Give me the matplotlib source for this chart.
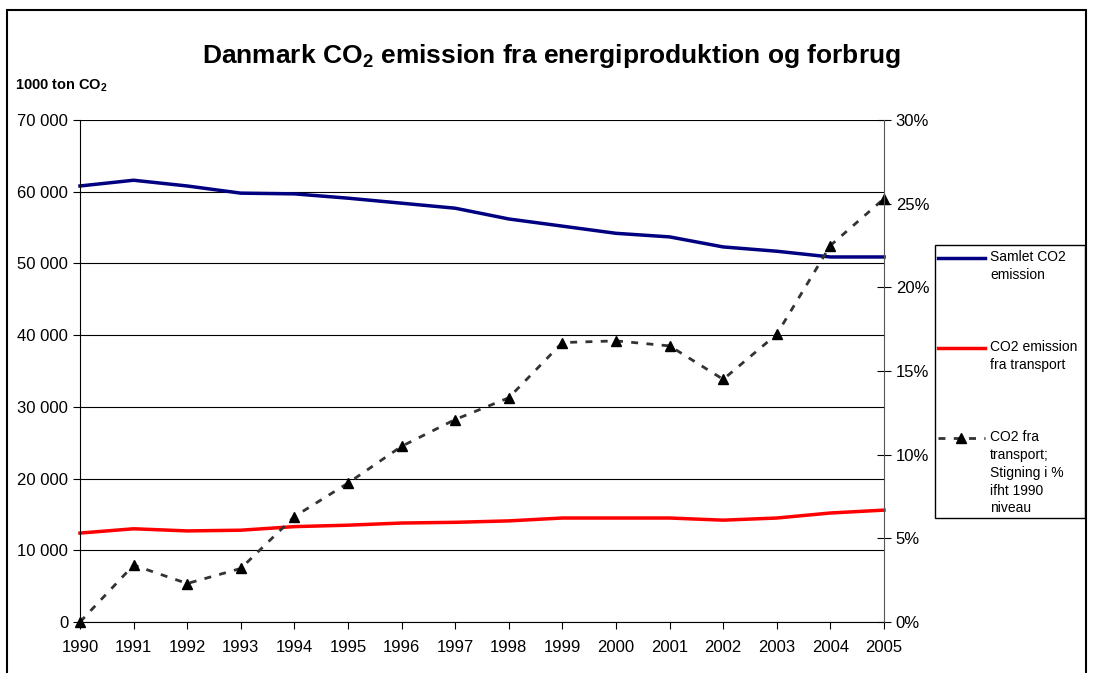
import matplotlib
matplotlib.use("Agg")
import matplotlib.pyplot as plt
from matplotlib.patches import Rectangle
from matplotlib.lines import Line2D
from matplotlib.ticker import FuncFormatter

plt.rcParams['font.family'] = ['Liberation Sans', 'DejaVu Sans']
plt.rcParams['mathtext.fontset'] = 'custom'
plt.rcParams['mathtext.rm'] = 'Liberation Sans'
plt.rcParams['mathtext.bf'] = 'Liberation Sans:bold'

years = list(range(1990, 2006))
samlet = [60.8, 61.6, 60.8, 59.8, 59.7, 59.1, 58.4, 57.7, 56.2, 55.2, 54.2, 53.7, 52.3, 51.7, 50.9, 50.9]
samlet = [v * 1000 for v in samlet]
transport = [12.4, 13.0, 12.7, 12.8, 13.3, 13.5, 13.8, 13.9, 14.1, 14.5, 14.5, 14.5, 14.2, 14.5, 15.2, 15.6]
transport = [v * 1000 for v in transport]
stigning = [0.0, 3.4, 2.3, 3.2, 6.3, 8.3, 10.5, 12.1, 13.4, 16.7, 16.8, 16.5, 14.5, 17.2, 22.5, 25.3]
labels = ['Samlet CO2\nemission', 'CO2 emission\nfra transport',
          'CO2 fra\ntransport;\nStigning i %\nifht 1990\nniveau']

W, H = 1094, 673
fig = plt.figure(figsize=(W / 100, H / 100), dpi=100)
fig.patches.append(Rectangle((7 / W, -0.01), (1086 - 7) / W, (H - 10) / H + 0.01,
                             transform=fig.transFigure, fill=False, ec='black', lw=1.5))

ax = fig.add_axes([80 / W, 1 - 622 / H, (884 - 80) / W, (622 - 120) / H])
ax.plot(years, samlet, color='#000080', lw=2.5)
ax.plot(years, transport, color='#ff0000', lw=2.5)
ax.set_xlim(1990, 2005)
ax.set_ylim(0, 70000)
ax.set_yticks(range(0, 70001, 10000))
ax.yaxis.set_major_formatter(FuncFormatter(lambda v, p: f"{int(v):,}".replace(',', ' ')))
ax.set_xticks(years)
ax.grid(axis='y', color='#000000', lw=0.8)
ax.set_axisbelow(True)
for s in ['top', 'right']:
    ax.spines[s].set_visible(False)
ax.tick_params(axis='both', direction='out', length=5, labelsize=12, colors='black')
ax.tick_params(axis='x', pad=8)

ax2 = ax.twinx()
ax2.plot(years, stigning, color='#333333', lw=2, ls=(0, (2.5, 3)), marker='^',
         markersize=7, markerfacecolor='black', markeredgecolor='black')
ax2.set_ylim(0, 30)
ax2.set_yticks(range(0, 31, 5))
ax2.yaxis.set_major_formatter(FuncFormatter(lambda v, p: f"{int(v)}%"))
for s in ['top', 'left', 'bottom']:
    ax2.spines[s].set_visible(False)
ax2.spines['right'].set_color('#555555')
ax2.tick_params(axis='y', direction='inout', length=10, labelsize=12, colors='black')
ax2.set_xlim(1990, 2005)
for line in ax.lines + ax2.lines:
    line.set_clip_on(False)

fig.text(551 / W, 1 - 56 / H, r'Danmark CO$_\mathbf{2}$ emission fra energiproduktion og forbrug',
         ha='center', va='center', fontsize=19, fontweight='bold')
fig.text(15 / W, 1 - 86 / H, r'1000 ton CO$_\mathbf{2}$', ha='left', va='center',
         fontsize=10.5, fontweight='bold')

# manual legend
fig.patches.append(Rectangle((935 / W, 1 - 518 / H), (1085 - 935) / W, (518 - 245) / H,
                             transform=fig.transFigure, fill=True, fc='white', ec='black', lw=1))
ys = [258, 348, 438]
styles = [dict(color='#000080', lw=2.5), dict(color='#ff0000', lw=2.5),
          dict(color='#333333', lw=2, ls=(0, (2.5, 3)))]
for y, st, lab in zip(ys, styles, labels):
    fig.add_artist(Line2D([938 / W, 985 / W], [1 - y / H, 1 - y / H], transform=fig.transFigure, **st))
    fig.text(990 / W, 1 - (y - 8) / H, lab, ha='left', va='top', fontsize=10, linespacing=1.35)
fig.add_artist(Line2D([961 / W], [1 - 438 / H], transform=fig.transFigure, marker='^',
                      markersize=7, color='black', ls='none'))

fig.savefig('out.png', dpi=100)
